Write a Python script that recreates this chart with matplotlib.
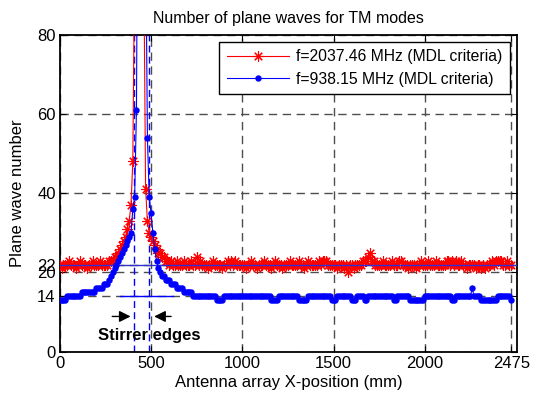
import numpy as np
import matplotlib
matplotlib.use('Agg')
import matplotlib.pyplot as plt

plt.rcParams['font.family'] = ['Liberation Sans', 'DejaVu Sans']

# red series (2037.46 MHz), one value every 10 mm; digits are value-20
red_left = "2122232221" "2322212232" "2232222333"
red_peak = [24, 24, 25, 26, 27, 28, 29, 31, 33, 37, 48, 100, 150, 150, 150,
            150, 100, 41, 33, 30, 29, 28, 27, 26, 25, 25, 24, 24, 23, 23]
red_right = ("2322322232" "2232242322" "2122322221" "2232323222" "2212232212"
             "2232221232" "2212223222" "2322123222" "2232333222" "2212221202"
             "2122223334" "5332222322" "2232223322" "2122212232" "2232223222"
             "2233232322" "3221222212" "2121222323" "33322322")

# blue series (938.15 MHz), given as (value, count) runs every 10 mm
blue_runs = [(13, 4), (14, 8), (15, 8), (16, 4), (17, 3)]
blue_peak = [18, 19, 20, 21, 22, 23, 24, 25, 26, 27, 28, 29, 30, 36, 39, 61,
             150, 150, 150, 150, 110, 54, 39, 35, 30, 26, 23, 21, 20, 19, 19,
             18, 18, 18, 17, 17, 17, 16, 16, 16, 16, 15, 15, 15, 15, 15]
blue_tail = [(14, 13), (13, 4), (14, 26), (13, 4), (14, 11), (13, 5), (14, 13),
             (13, 3), (14, 8), (13, 3), (14, 4), (13, 2), (14, 14), (13, 2),
             (14, 7), (13, 8), (14, 15), (13, 2), (14, 9), (16, 1), (14, 4),
             (13, 9), (14, 7), (13, 1)]

step = 10
stirrer_edges = [408, 490]
ref_levels = [22, 14]
xticks = [0, 500, 1000, 1500, 2000, 2475]
yticks = [0, 14, 20, 22, 40, 60, 80]

red = [20 + int(c) for c in red_left] + red_peak + [20 + int(c) for c in red_right]
blue = []
for v, n in blue_runs:
    blue += [v] * n
blue += blue_peak
for v, n in blue_tail:
    blue += [v] * n
red = np.array(red)
blue = np.array(blue)
x_red = np.arange(len(red)) * step
x_blue = np.arange(len(blue)) * step

fig = plt.figure(figsize=(5.39, 3.97), dpi=100)
ax = fig.add_axes([0.111, 0.114, 0.848, 0.799])

# MATLAB-like asterisk marker (+ and x combined)
ax.plot(x_red, red, color='red', lw=0.8, marker=(8, 2, 0), ms=7.5, mew=0.8,
        label='f=2037.46 MHz (MDL criteria)', zorder=3)
ax.plot(x_blue, blue, color='blue', lw=0.8, marker='o', ms=4.6, mew=0,
        label='f=938.15 MHz (MDL criteria)', zorder=4)

# reference levels
ax.axhline(ref_levels[0], color='#3030d0', lw=1.0, zorder=3.5)
ax.plot([330, 620], [ref_levels[1], ref_levels[1]], color='blue', lw=1.0, zorder=3.5)

# stirrer edge markers
for xe in stirrer_edges:
    ax.axvline(xe, color='blue', lw=1.0, ls=(0, (5, 3)), zorder=2)
ax.annotate('', xy=(stirrer_edges[0] - 5, 8.9), xytext=(272, 8.9),
            arrowprops=dict(arrowstyle='-|>', color='black', lw=1, mutation_scale=17))
ax.annotate('', xy=(stirrer_edges[1] + 12, 8.9), xytext=(625, 8.9),
            arrowprops=dict(arrowstyle='-|>', color='black', lw=1, mutation_scale=17))
ax.text(490, 4.2, 'Stirrer edges', ha='center', va='center', fontsize=12,
        fontweight='bold', zorder=5)

ax.set_xlim(0, 2505)
ax.set_ylim(0, 80)
ax.set_xticks(xticks)
ax.set_yticks(yticks)
ax.tick_params(direction='in', top=True, right=True, labelsize=12, length=4, pad=3)
ax.grid(True, color='0.3', ls=(0, (6, 4)), lw=1.0)
for s in ax.spines.values():
    s.set_linewidth(1.3)

ax.set_title('Number of plane waves for TM modes', fontsize=11.5, pad=8)
ax.set_xlabel('Antenna array X-position (mm)', fontsize=12, labelpad=3)
ax.set_ylabel('Plane wave number', fontsize=12)
ax.yaxis.set_label_coords(-0.077, 0.5)

leg = ax.legend(loc='upper right', fontsize=11.3, fancybox=False, framealpha=1,
                edgecolor='black', borderaxespad=0.45, handlelength=4.0,
                borderpad=0.5, labelspacing=0.45, handletextpad=0.4)
leg.get_frame().set_linewidth(1.0)

fig.savefig('out.png', dpi=100)
